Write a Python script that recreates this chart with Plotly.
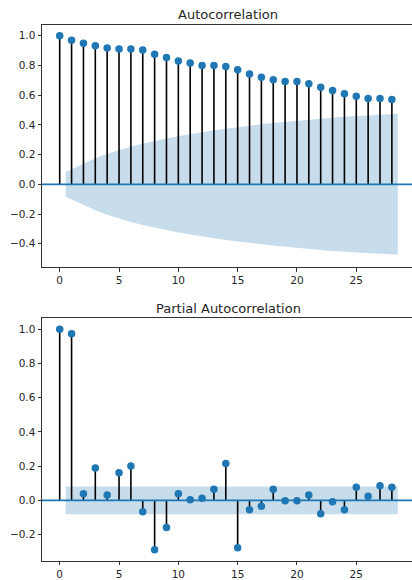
import plotly.graph_objects as go

# ---- data ----
lags = list(range(29))
acf_vals = [1.0, 0.969, 0.949, 0.933, 0.918, 0.911, 0.911, 0.904, 0.876, 0.853,
            0.829, 0.816, 0.800, 0.800, 0.793, 0.771, 0.742, 0.720, 0.704, 0.691,
            0.691, 0.676, 0.653, 0.631, 0.609, 0.593, 0.578, 0.578, 0.571]
# half-width of the ACF confidence band at lags 1..28
acf_band = [0.083, 0.137, 0.175, 0.205, 0.231, 0.253, 0.274, 0.293, 0.309, 0.324,
            0.338, 0.351, 0.363, 0.374, 0.385, 0.395, 0.404, 0.412, 0.420, 0.427,
            0.435, 0.442, 0.448, 0.454, 0.459, 0.464, 0.469, 0.474]
pacf_vals = [1.0, 0.973, 0.039, 0.189, 0.031, 0.161, 0.201, -0.067, -0.289, -0.159,
             0.039, 0.004, 0.012, 0.065, 0.215, -0.278, -0.055, -0.035, 0.065, -0.002,
             -0.002, 0.031, -0.079, -0.008, -0.055, 0.077, 0.024, 0.085, 0.077]
pacf_conf = 0.081
titles = ["Autocorrelation", "Partial Autocorrelation"]
xticks = [0, 5, 10, 15, 20, 25]

BLUE = "#1f77b4"
BAND = "rgba(31,119,180,0.25)"
AX = "#333333"
TXT = "#262626"
FONT = "DejaVu Sans"

W, H = 412, 580
L = 42.3
PW = W - L

# band x positions (statsmodels shifts the end lags by half a step)
band_x = [float(v) for v in lags[1:]]
band_x[0] -= 0.5
band_x[-1] += 0.5

fig = go.Figure()


def add_panel(vals, upper, lower, xa, ya):
    # confidence band
    fig.add_trace(go.Scatter(x=band_x + band_x[::-1], y=upper + lower[::-1],
                             fill="toself", fillcolor=BAND, line=dict(width=0),
                             mode="lines", hoverinfo="skip", showlegend=False,
                             xaxis=xa, yaxis=ya))
    # stems
    sx, sy = [], []
    for lag, v in zip(lags, vals):
        sx += [lag, lag, None]
        sy += [0, v, None]
    fig.add_trace(go.Scatter(x=sx, y=sy, mode="lines",
                             line=dict(color="black", width=1.6),
                             showlegend=False, xaxis=xa, yaxis=ya))
    # markers
    fig.add_trace(go.Scatter(x=lags, y=vals, mode="markers",
                             marker=dict(color=BLUE, size=7.5, line=dict(width=0)),
                             showlegend=False, xaxis=xa, yaxis=ya))


add_panel(acf_vals, acf_band, [-b for b in acf_band], "x", "y")
add_panel(pacf_vals, [pacf_conf] * len(band_x), [-pacf_conf] * len(band_x), "x2", "y2")

# zero lines (axhline)
for xr, yr in (("x domain", "y"), ("x2 domain", "y2")):
    fig.add_shape(type="line", xref=xr, yref=yr, x0=0, x1=1, y0=0, y1=0,
                  line=dict(color=BLUE, width=1.8), layer="above")

xrange = [-(60 - L) / 11.853, (W - 60) / 11.853]

axis_common = dict(showgrid=False, zeroline=False, showline=True, linecolor=AX,
                   linewidth=1, ticks="outside", ticklen=3.5, tickwidth=0.8,
                   tickcolor=AX, tickfont=dict(family=FONT, size=10.5, color=TXT),
                   automargin=False, fixedrange=True)

fig.update_layout(
    width=W, height=H,
    margin=dict(l=L, r=0, t=0, b=0),
    paper_bgcolor="white", plot_bgcolor="white",
    showlegend=False,
    xaxis=dict(axis_common, domain=[0, 1], range=xrange, anchor="y",
               tickvals=xticks, mirror=True),
    yaxis=dict(axis_common, domain=[1 - 267.3 / H, 1 - 25 / H], range=[-0.5585, 1.072],
               anchor="x", tickvals=[-0.4, -0.2, 0.0, 0.2, 0.4, 0.6, 0.8, 1.0],
               tickformat=".1f"),
    xaxis2=dict(axis_common, domain=[0, 1], range=xrange, anchor="y2",
                tickvals=xticks, mirror=True),
    yaxis2=dict(axis_common, domain=[1 - 560.7 / H, 1 - 318.3 / H], range=[-0.353, 1.064],
                anchor="x2", tickvals=[-0.2, 0.0, 0.2, 0.4, 0.6, 0.8, 1.0],
                tickformat=".1f"),
)

title_x = (228.5 - L) / PW
for t, ypx in zip(titles, (14.0, 308.5)):
    fig.add_annotation(text=t, xref="paper", yref="paper", x=title_x, y=1 - ypx / H,
                       xanchor="center", yanchor="middle", showarrow=False,
                       font=dict(family=FONT, size=13, color=TXT))

fig.write_html("out.html", config={"displayModeBar": False},
               post_script="document.body.style.margin='0';document.body.style.overflow='hidden';")
